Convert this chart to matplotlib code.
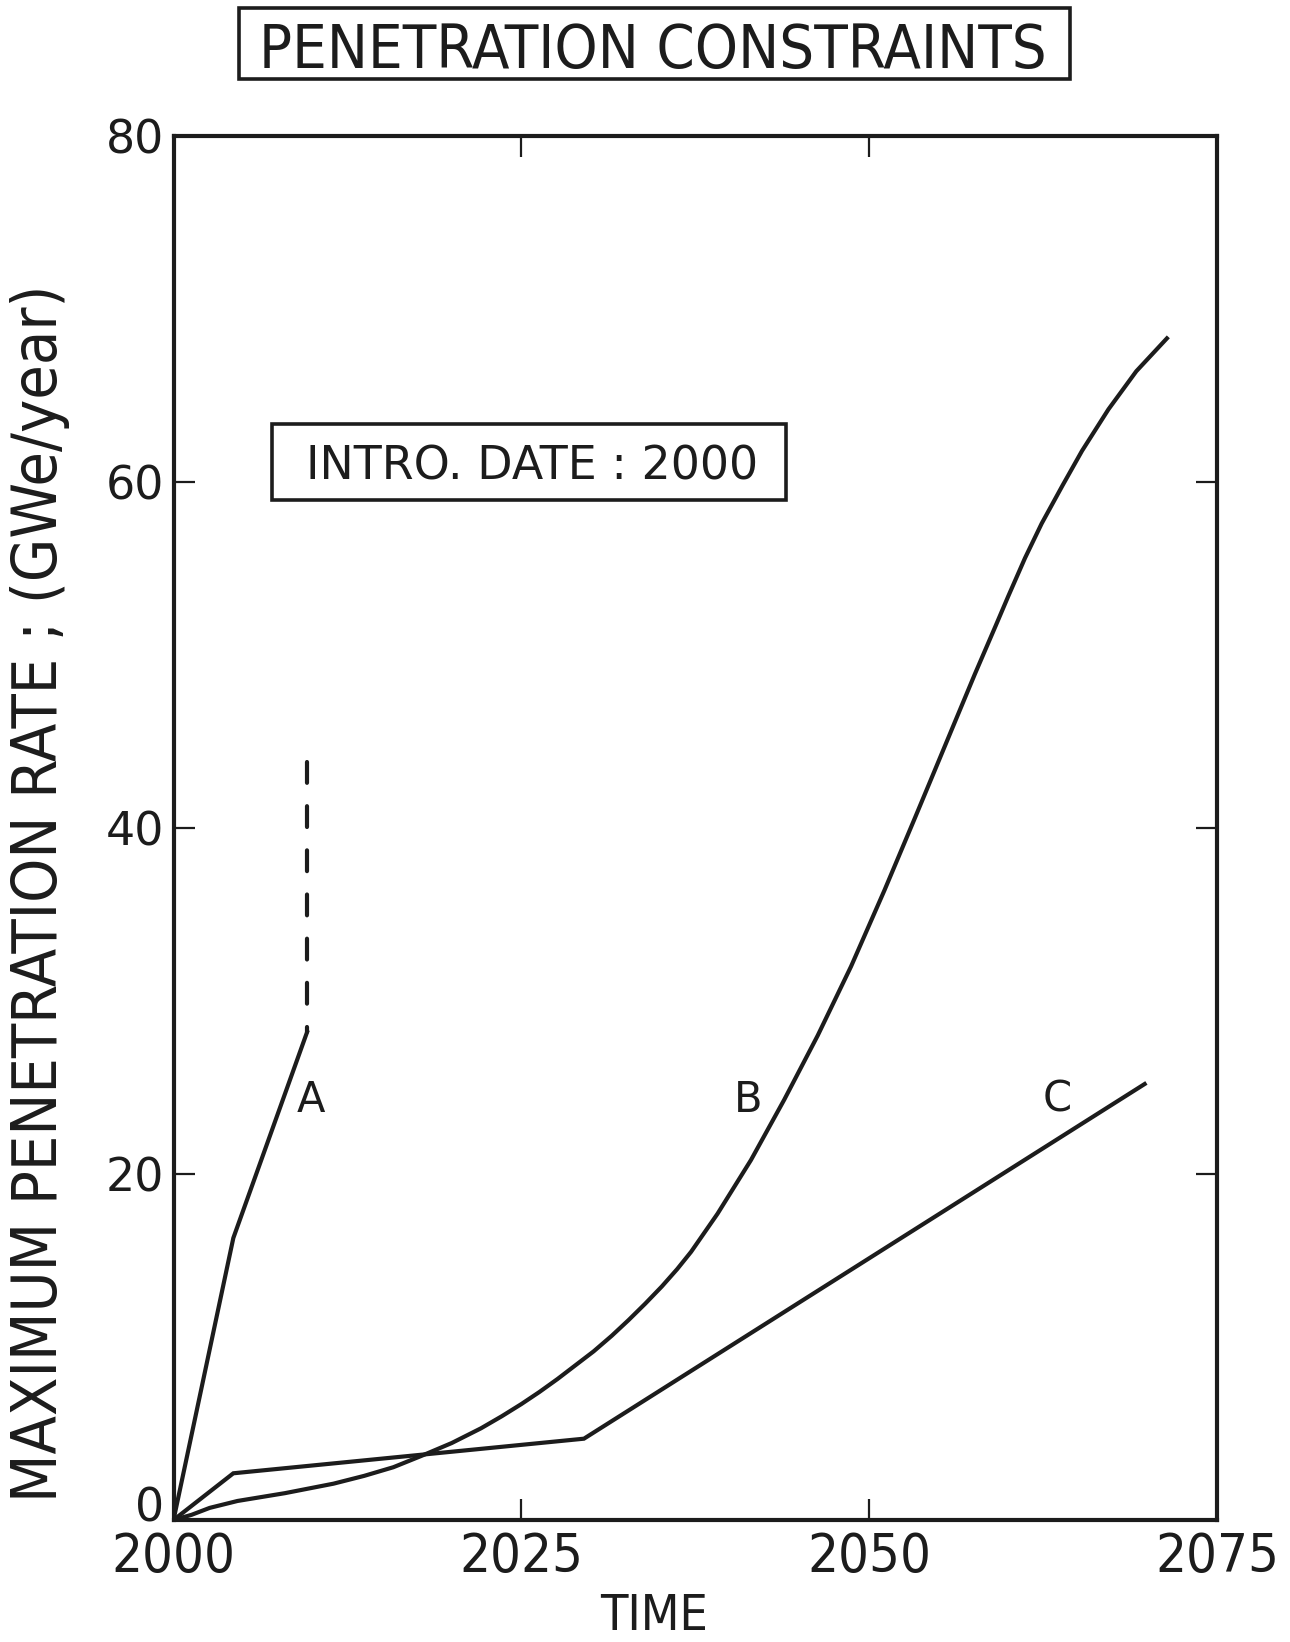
import matplotlib
matplotlib.use("Agg")
import matplotlib.pyplot as plt
import matplotlib.transforms as mtransforms
from matplotlib.patches import Rectangle

INK = "#1c1c1c"
FONT = ["DejaVu Sans"]

# curve A: solid part, then the dashed upper bound
a_years = [2000, 2004.3, 2009.6]
a_rate = [0, 16.3, 28.2]
a_dash_years = [2009.6, 2009.6]
a_dash_rate = [43.8, 28.2]

# curve B
b_years = [2000, 2001.3, 2002.6, 2004.6, 2008, 2011.5, 2013.7, 2015.8, 2017.8,
           2020, 2022.1, 2023.6, 2025.0, 2026.3, 2027.6, 2028.9, 2030.2,
           2031.5, 2032.7, 2033.9, 2035.1, 2036.2, 2037.2, 2039.1, 2041.5,
           2043.9, 2046.3, 2048.7, 2051.1, 2053.3, 2054.7, 2056.2, 2057.6,
           2059.1, 2060.0, 2061.2, 2062.4, 2063.9, 2065.3, 2067.2, 2069.2, 2071.4]
b_rate = [0, 0.3, 0.7, 1.1, 1.55, 2.1, 2.55, 3.05, 3.7,
          4.45, 5.3, 6.0, 6.7, 7.4, 8.15, 8.95, 9.75,
          10.65, 11.55, 12.5, 13.5, 14.5, 15.5, 17.7, 20.8,
          24.3, 28.0, 32.0, 36.4, 40.6, 43.3, 46.2, 48.9,
          51.7, 53.4, 55.6, 57.6, 59.8, 61.8, 64.2, 66.4, 68.3]

# curve C: piecewise linear
c_years = [2000, 2004.3, 2029.5, 2069.8]
c_rate = [0, 2.7, 4.7, 25.2]

curve_labels = ["A", "B", "C"]
label_years = [2009.9, 2041.3, 2063.5]
label_rate = [23.6, 23.6, 23.6]

x_ticks = [2000, 2025, 2050, 2075]
y_ticks = [0, 20, 40, 60, 80]

fig = plt.figure(figsize=(12.9, 16.42), dpi=100)
ax = fig.add_axes([0.1345, 0.0743, 0.8089, 0.8429])

lw = 3.0
ax.plot(a_years, a_rate, color=INK, lw=lw, solid_joinstyle="miter")
ax.plot(a_dash_years, a_dash_rate, color=INK, lw=lw, dashes=(5.0, 5.6),
        dash_capstyle="round")
ax.plot(b_years, b_rate, color=INK, lw=lw, solid_joinstyle="round")
ax.plot(c_years, c_rate, color=INK, lw=lw, solid_joinstyle="miter")

for lab, xx, yy in zip(curve_labels, label_years, label_rate):
    ax.text(xx, yy, lab, ha="center", va="baseline", fontsize=30,
            color=INK, family=FONT)

ax.set_xlim(2000, 2075)
ax.set_ylim(0, 80)
ax.set_xticks(x_ticks)
ax.set_yticks(y_ticks)
ax.set_xticklabels([str(v) for v in x_ticks], family=FONT, fontstretch="condensed",
                   fontsize=39, color=INK)
ax.set_yticklabels([str(v) for v in y_ticks], family=FONT, fontsize=33, color=INK)
ax.tick_params(direction="in", length=15, width=1.6, color=INK,
               top=True, right=True)
ax.tick_params(axis="x", pad=8)
ax.tick_params(axis="y", pad=7)
# lift the "0" a little, as on the original sheet
ylabs = ax.get_yticklabels()
ylabs[0].set_transform(ylabs[0].get_transform() +
                       mtransforms.ScaledTranslation(0, 16 / 100, fig.dpi_scale_trans))
for sp in ax.spines.values():
    sp.set_linewidth(3.0)
    sp.set_color(INK)

fig.text(0.507, 0.0158, "TIME", ha="center", va="center", family=FONT,
         fontstretch="condensed", fontsize=36, color=INK)
fig.text(0.031, 0.4558, "MAXIMUM PENETRATION RATE ; (GWe/year)", rotation=90,
         ha="center", va="center", family=FONT, fontstretch="condensed",
         fontsize=45, color=INK)

# intro date box (axes fraction)
ax.add_patch(Rectangle((0.094, 0.737), 0.493, 0.0549, transform=ax.transAxes,
                       fill=False, lw=2.6, edgecolor=INK, clip_on=False))
ax.text(0.3438, 0.7517, "INTRO. DATE : 2000", transform=ax.transAxes,
        ha="center", va="baseline", family=FONT, fontsize=33, color=INK)

# title box (figure fraction)
fig.patches.append(Rectangle((0.1853, 0.9519), 0.6442, 0.0432,
                             transform=fig.transFigure, fill=False, lw=2.6,
                             edgecolor=INK))
fig.text(0.506, 0.9586, "PENETRATION CONSTRAINTS", ha="center", va="baseline",
         family=FONT, fontstretch="condensed", fontsize=44, color=INK)

plt.savefig("out.png", dpi=100)
